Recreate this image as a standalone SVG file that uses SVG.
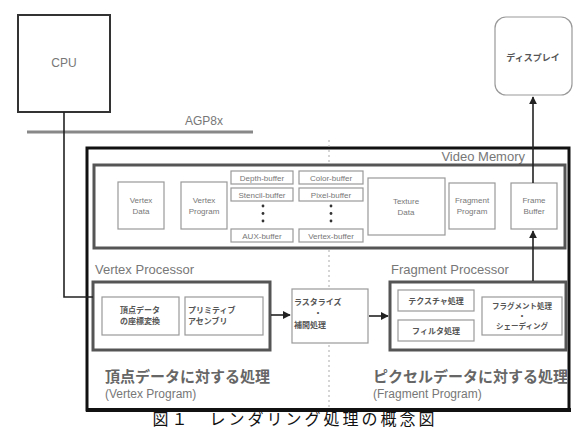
<svg xmlns="http://www.w3.org/2000/svg" width="580" height="427" viewBox="0 0 580 427">
<defs>
<marker id="ah" viewBox="0 0 10 10" refX="9" refY="5" markerWidth="5" markerHeight="5" orient="auto"><path d="M0,0 L10,5 L0,10 z" fill="#222"/></marker>
<style>
text{font-family:"Liberation Sans","Noto Sans CJK JP",sans-serif;fill:#777}
.s{font-size:8px;text-anchor:middle}
.j{font-size:8px;fill:#555;font-weight:bold}
.lbl{font-size:13px}
.box{fill:#fff;stroke:#999;stroke-width:1.2}
.proc{fill:#fff;stroke:#555;stroke-width:3}
.big{font-size:15px;font-weight:bold;fill:#666}
.sub{font-size:12px}
.conn{fill:none;stroke:#222;stroke-width:1.6}
</style>
</defs>
<rect width="580" height="427" fill="#fff"/>

<g id="cpu"><rect x="18" y="15" width="92" height="97" fill="#fff" stroke="#333" stroke-width="2"/><text x="64" y="67" class="lbl" text-anchor="middle" style="font-size:12px">CPU</text></g>
<g id="agp"><line x1="27" y1="132" x2="253" y2="132" stroke="#888" stroke-width="3"/><text x="204" y="125" class="lbl" text-anchor="middle" style="font-size:12px">AGP8x</text></g>
<g id="display"><rect x="495" y="17" width="77" height="78" rx="11" fill="#fff" stroke="#999" stroke-width="1.2"/><text x="533" y="61" class="j" text-anchor="middle" style="font-size:9px">ディスプレイ</text></g>

<g id="outer"><rect x="87" y="148" width="482" height="262" fill="none" stroke="#111" stroke-width="3"/><line x1="86" y1="410" x2="571" y2="410" stroke="#111" stroke-width="4"/></g>
<g id="divider"><line x1="329" y1="140" x2="329" y2="408" stroke="#aaa" stroke-width="1" stroke-dasharray="2,3"/></g>

<g id="videomemory">
<text x="525" y="161" class="lbl" text-anchor="end">Video Memory</text>
<rect x="94" y="165" width="471" height="83" fill="#fff" stroke="#555" stroke-width="3"/>
</g>
<g id="vertexdata"><rect class="box" x="118" y="182" width="46" height="47"/><text class="s" x="141" y="203">Vertex</text><text class="s" x="141" y="214">Data</text></g>
<g id="vertexprogram"><rect class="box" x="181" y="182" width="46" height="47"/><text class="s" x="204" y="203">Vertex</text><text class="s" x="204" y="214">Program</text></g>
<g id="buffers">
<rect class="box" x="231" y="171" width="62" height="13"/><text class="s" x="262" y="180.5">Depth-buffer</text>
<rect class="box" x="231" y="188" width="62" height="13"/><text class="s" x="262" y="197.5">Stencil-buffer</text>
<rect class="box" x="231" y="229" width="62" height="13"/><text class="s" x="262" y="238.5">AUX-buffer</text>
<rect class="box" x="299" y="171" width="64" height="13"/><text class="s" x="331" y="180.5">Color-buffer</text>
<rect class="box" x="299" y="188" width="64" height="13"/><text class="s" x="331" y="197.5">Pixel-buffer</text>
<rect class="box" x="299" y="229" width="64" height="13"/><text class="s" x="331" y="238.5">Vertex-buffer</text>
<g fill="#333"><circle cx="263" cy="206" r="1.4"/><circle cx="263" cy="213.5" r="1.4"/><circle cx="263" cy="221" r="1.4"/><circle cx="331" cy="206" r="1.4"/><circle cx="331" cy="213.5" r="1.4"/><circle cx="331" cy="221" r="1.4"/></g>
</g>
<g id="texturedata"><rect class="box" x="368" y="178" width="77" height="57"/><text class="s" x="406" y="204">Texture</text><text class="s" x="406" y="215">Data</text></g>
<g id="fragmentprogram"><rect class="box" x="449" y="183" width="46" height="46"/><text class="s" x="472" y="203">Fragment</text><text class="s" x="472" y="214">Program</text></g>
<g id="framebuffer"><rect class="box" x="511" y="183" width="46" height="46"/><text class="s" x="534" y="203">Frame</text><text class="s" x="534" y="214">Buffer</text></g>

<g id="vertexprocessor">
<text x="95" y="274" class="lbl">Vertex Processor</text>
<rect class="proc" x="93" y="282" width="177" height="68"/>
<rect class="box" x="102" y="297" width="77" height="38"/><text class="j" x="140" y="313" text-anchor="middle">頂点データ</text><text class="j" x="140" y="324" text-anchor="middle">の座標変換</text>
<rect class="box" x="185" y="297" width="78" height="38"/><text class="j" x="188" y="313">プリミティブ</text><text class="j" x="188" y="324">アセンブリ</text>
<text x="105" y="382" class="big">頂点データに対する処理</text>
<text x="105" y="398" class="sub">(Vertex Program)</text>
</g>
<g id="rasterize"><rect class="box" x="292" y="289" width="76" height="54"/><text class="j" x="294" y="305">ラスタライズ</text><text class="j" x="318" y="316" text-anchor="middle">・</text><text class="j" x="294" y="328">補間処理</text></g>
<g id="fragmentprocessor">
<text x="391" y="274" class="lbl">Fragment Processor</text>
<rect class="proc" x="390" y="282" width="176" height="68"/>
<rect class="box" x="398" y="290" width="76" height="21"/><text class="j" x="436" y="304" text-anchor="middle">テクスチャ処理</text>
<rect class="box" x="398" y="320" width="76" height="21"/><text class="j" x="436" y="334" text-anchor="middle">フィルタ処理</text>
<rect class="box" x="482" y="297" width="80" height="38"/><text class="j" x="522" y="309" text-anchor="middle" style="font-size:7.5px">フラグメント処理</text><text class="j" x="522" y="319" text-anchor="middle">・</text><text class="j" x="522" y="329" text-anchor="middle" style="font-size:7.5px">シェーディング</text>
<text x="373" y="382" class="big">ピクセルデータに対する処理</text>
<text x="373" y="398" class="sub">(Fragment Program)</text>
</g>

<g id="connectors">
<path class="conn" d="M64,112 V297 H93"/>
<path class="conn" d="M271,315 H290" marker-end="url(#ah)"/>
<path class="conn" d="M369,316 H388" marker-end="url(#ah)"/>
<path class="conn" d="M533,281 V231" marker-end="url(#ah)"/>
<path class="conn" d="M533,183 V97" marker-end="url(#ah)"/>
</g>

<g id="caption"><text x="295" y="425" text-anchor="middle" style="font-size:16px;fill:#111;letter-spacing:3px">図１　レンダリング処理の概念図</text></g>
</svg>
